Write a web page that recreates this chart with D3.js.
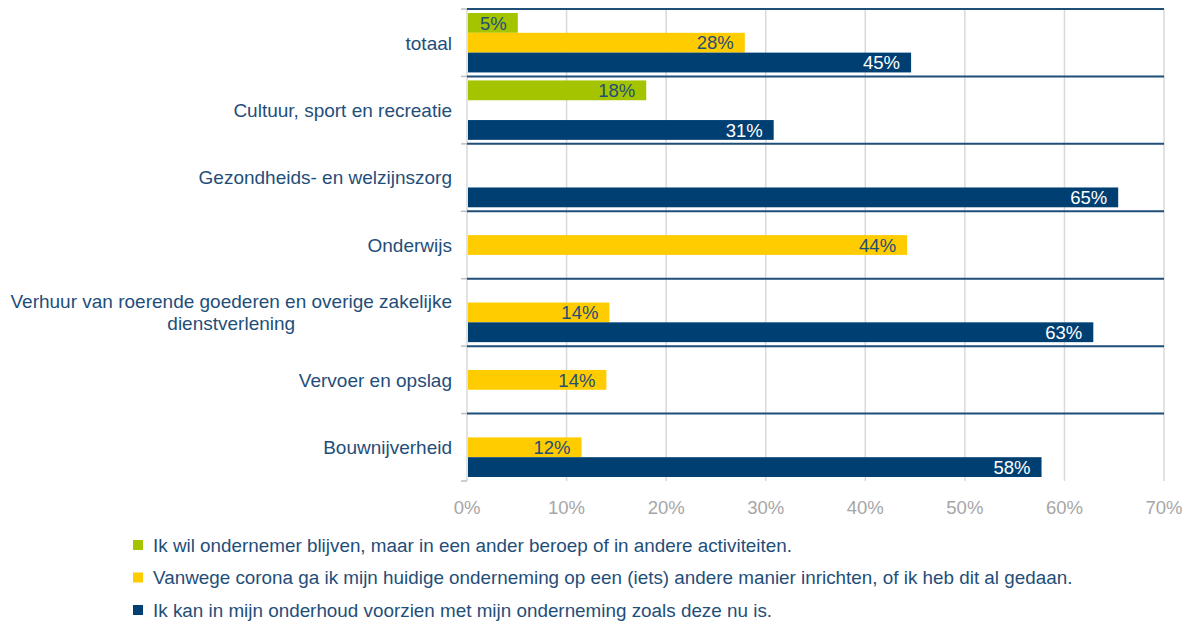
<!DOCTYPE html>
<html>
<head>
<meta charset="UTF-8">
<title>Ondernemers en corona</title>
<script src="https://cdn.jsdelivr.net/npm/d3@7"></script>
<style>
  body { margin: 0; background: #fff; }
  text { font-family: "Liberation Sans", Arial, sans-serif; }
</style>
</head>
<body>
<script>
// categories (top to bottom)
var categories = [
  "totaal",
  "Cultuur, sport en recreatie",
  "Gezondheids- en welzijnszorg",
  "Onderwijs",
  "Verhuur van roerende goederen en overige zakelijke|dienstverlening",
  "Vervoer en opslag",
  "Bouwnijverheid"
];
var seriesNames = [
  "Ik wil ondernemer blijven, maar in een ander beroep of in andere activiteiten.",
  "Vanwege corona ga ik mijn huidige onderneming op een (iets) andere manier inrichten, of ik heb dit al gedaan.",
  "Ik kan in mijn onderhoud voorzien met mijn onderneming zoals deze nu is."
];
var seriesColors = ["#a5c400", "#ffcc00", "#003f72"];
var labelColors = ["#1f4e79", "#1f4e79", "#ffffff"];
// values in %, null = no bar
var anderBeroep = [5.1, 18.0, null, null, null, null, null];
var andereManier = [27.9, null, null, 44.2, 14.3, 14.0, 11.5];
var zoalsNu = [44.6, 30.8, 65.4, null, 62.9, null, 57.7];
var xTicks = [0, 10, 20, 30, 40, 50, 60, 70];

var series = [anderBeroep, andereManier, zoalsNu];

var width = 1192, height = 623;
var plotLeft = 467, plotRight = 1164, plotTop = 9, plotBottom = 481;

var svg = d3.select("body").append("svg")
    .attr("width", width)
    .attr("height", height);

var x = d3.scaleLinear().domain([0, 70]).range([plotLeft, plotRight]);
var y = d3.scaleBand().domain(d3.range(categories.length)).range([plotTop, plotBottom]);
var ySub = d3.scaleBand().domain([0, 1, 2]).range([4, y.bandwidth() - 4]);

// vertical gridlines
svg.append("g").selectAll("line").data(xTicks).enter().append("line")
    .attr("x1", function(d){ return x(d); })
    .attr("x2", function(d){ return x(d); })
    .attr("y1", plotTop)
    .attr("y2", plotBottom)
    .attr("stroke", "#d9d9d9")
    .attr("stroke-width", 1.5);

// left ticks
var bounds = d3.range(categories.length + 1).map(function(i){ return plotTop + i * y.step(); });
svg.append("g").selectAll("line").data(bounds).enter().append("line")
    .attr("x1", plotLeft - 6)
    .attr("x2", plotLeft)
    .attr("y1", function(d){ return d; })
    .attr("y2", function(d){ return d; })
    .attr("stroke", "#bfbfbf")
    .attr("stroke-width", 1.5);

// navy separators
svg.append("g").selectAll("line").data(bounds.slice(0, -1)).enter().append("line")
    .attr("x1", plotLeft)
    .attr("x2", plotRight)
    .attr("y1", function(d){ return d; })
    .attr("y2", function(d){ return d; })
    .attr("stroke", "#1f4e79")
    .attr("stroke-width", 2);

// bars
series.forEach(function(vals, s) {
    var items = vals.map(function(v, i){ return {v: v, i: i}; })
        .filter(function(d){ return d.v !== null; });
    var g = svg.append("g");
    g.selectAll("rect").data(items).enter().append("rect")
        .attr("x", x(0) + 1)
        .attr("y", function(d){ return y(d.i) + ySub(s); })
        .attr("width", function(d){ return x(d.v) - x(0) - 1; })
        .attr("height", ySub.bandwidth())
        .attr("fill", seriesColors[s]);
    g.selectAll("text").data(items).enter().append("text")
        .attr("x", function(d){ return x(d.v) - 11; })
        .attr("y", function(d){ return y(d.i) + ySub(s) + ySub.bandwidth() / 2; })
        .attr("dy", "0.36em")
        .attr("text-anchor", "end")
        .attr("font-size", 18.5)
        .attr("fill", labelColors[s])
        .text(function(d){ return Math.round(d.v) + "%"; });
});

// category labels
var catG = svg.append("g");
categories.forEach(function(c, i) {
    var lines = c.split("|");
    var t = catG.append("text")
        .attr("font-size", 19)
        .attr("fill", "#1f4e79")
        .attr("text-anchor", "middle");
    var cy = y(i) + y.bandwidth() / 2;
    var lh = 22;
    lines.forEach(function(l, k) {
        t.append("tspan")
            .attr("x", 0)
            .attr("y", cy + (k - (lines.length - 1) / 2) * lh)
            .attr("dy", "0.36em")
            .text(l);
    });
    // right-align the block at x=452, lines centered among themselves
    var w = t.node().getBBox().width;
    t.selectAll("tspan").attr("x", 452 - w / 2);
});

// x axis labels
svg.append("g").selectAll("text").data(xTicks).enter().append("text")
    .attr("x", function(d){ return x(d); })
    .attr("y", 507)
    .attr("dy", "0.36em")
    .attr("text-anchor", "middle")
    .attr("font-size", 18.5)
    .attr("fill", "#a6a6a6")
    .text(function(d){ return d + "%"; });

// legend
var legend = svg.append("g").selectAll("g").data(seriesNames).enter().append("g")
    .attr("transform", function(d, i){ return "translate(133," + (545 + i * 32.5) + ")"; });
legend.append("rect")
    .attr("x", 0)
    .attr("y", -5)
    .attr("width", 10)
    .attr("height", 10)
    .attr("fill", function(d, i){ return seriesColors[i]; });
legend.append("text")
    .attr("x", 20)
    .attr("y", 0)
    .attr("dy", "0.36em")
    .attr("font-size", 18.85)
    .attr("fill", "#1f4e79")
    .text(function(d){ return d; });
</script>
</body>
</html>
